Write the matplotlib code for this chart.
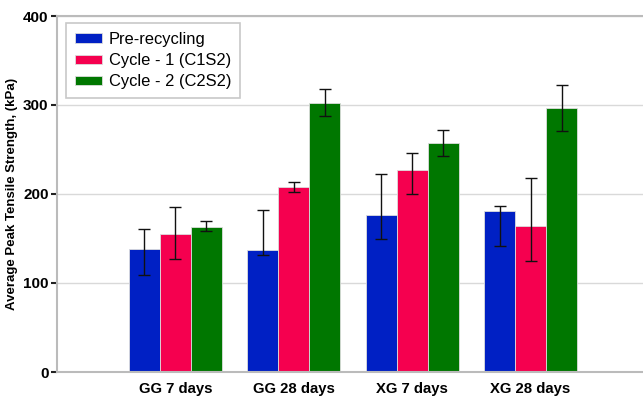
import matplotlib
matplotlib.use("Agg")
import matplotlib.pyplot as plt
import numpy as np

categories = ["GG 7 days", "GG 28 days", "XG 7 days", "XG 28 days"]
series_names = ["Pre-recycling", "Cycle - 1 (C1S2)", "Cycle - 2 (C2S2)"]
pre_vals = [138, 137, 176, 181]
pre_lo = [109, 131, 149, 142]
pre_hi = [161, 182, 223, 187]
c1_vals = [155, 208, 227, 164]
c1_lo = [127, 202, 200, 125]
c1_hi = [185, 214, 246, 218]
c2_vals = [163, 302, 257, 297]
c2_lo = [158, 288, 243, 271]
c2_hi = [170, 318, 272, 323]
colors = ["#0020c4", "#f5004f", "#007700"]

plt.rcParams['font.family'] = ['Liberation Sans', 'DejaVu Sans']

fig = plt.figure(figsize=(6.43, 3.99), dpi=100)
ax = fig.add_axes([57/643, 1-372/399, (649-57)/643, (372-16)/399])

x = np.arange(len(categories))
w = 0.262
data = [(pre_vals, pre_lo, pre_hi), (c1_vals, c1_lo, c1_hi), (c2_vals, c2_lo, c2_hi)]
for i, (vals, lo, hi) in enumerate(data):
    vals = np.array(vals); lo = np.array(lo); hi = np.array(hi)
    pos = x + (i - 1) * w
    ax.bar(pos, vals, w, color=colors[i], edgecolor="#dddddd", linewidth=0.6,
           label=series_names[i], zorder=2)
    ax.errorbar(pos, vals, yerr=[vals - lo, hi - vals], fmt="none", ecolor="#111111",
                elinewidth=1.0, capsize=4.3, capthick=1.0, zorder=3)

ax.set_xlim(-1.0, 4.0)
ax.set_ylim(0, 400)
ax.set_yticks([0, 100, 200, 300, 400])
ax.set_xticks(x)
ax.set_xticklabels(categories, fontsize=10.7, fontweight="bold")
ax.tick_params(axis="x", length=0, pad=7)
ax.tick_params(axis="y", length=4.5, width=1.5, color="#222222", labelsize=11, pad=1.5)
for lab in ax.get_yticklabels():
    lab.set_fontweight("bold")
ax.yaxis.grid(True, color="#d9d9d9", linewidth=1.0, zorder=0)
ax.set_axisbelow(True)
for s in ["left", "bottom", "top"]:
    ax.spines[s].set_color("#bbbbbb")
    ax.spines[s].set_linewidth(1.5)
ax.spines["right"].set_visible(False)
ax.set_ylabel("Average Peak Tensile Strength, (kPa)", fontsize=9.5, fontweight="bold", labelpad=3.5)

leg = ax.legend(loc="upper left", bbox_to_anchor=(0.016, 0.980), fontsize=11.9, frameon=True,
                fancybox=False, edgecolor="#bbbbbb", handlelength=1.6, handleheight=0.5,
                borderpad=0.53, labelspacing=0.38, handletextpad=0.45, borderaxespad=0.0)
leg.get_frame().set_linewidth(1.2)

fig.savefig("out.png", dpi=100)
